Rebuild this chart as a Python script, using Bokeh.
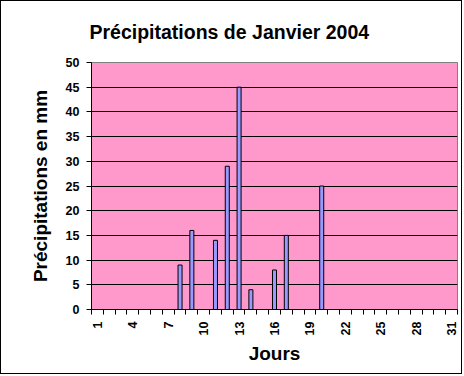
import math
from bokeh.plotting import figure
from bokeh.models import Range1d, FixedTicker, ColumnDataSource
from bokeh.embed import file_html
from bokeh.resources import INLINE

# ---- data ----
days = [8, 9, 11, 12, 13, 14, 16, 17, 20]
rain_mm = [9, 16, 14, 29, 45, 4, 8, 15, 25]
x_tick_days = [1, 4, 7, 10, 13, 16, 19, 22, 25, 28, 31]
y_ticks = [0, 5, 10, 15, 20, 25, 30, 35, 40, 45, 50]
n_days = 31

title_text = "Précipitations de Janvier 2004"
x_label = "Jours"
y_label = "Précipitations en mm"

FONT = "Liberation Sans"

p = figure(width=462, height=374, output_backend="svg", toolbar_location=None,
           x_range=Range1d(0.5, n_days + 0.5), y_range=Range1d(0, 50),
           min_border_left=90, min_border_right=6, min_border_top=61, min_border_bottom=66,
           title=title_text)

p.styles = {"border": "1px solid black"}

p.background_fill_color = "#FF99CC"
p.border_fill_color = "white"
p.outline_line_color = "#808080"
p.outline_line_width = 1

# title
p.title.text_font = FONT
p.title.text_font_size = "19.5px"
p.title.text_font_style = "bold"
p.title.text_color = "black"
p.title.align = "left"
p.title.vertical_align = "top"
p.title.offset = -2
p.title.standoff = 36

src = ColumnDataSource(dict(day=days, mm=rain_mm))
p.vbar(x="day", top="mm", width=0.34, bottom=0, source=src,
       fill_color="#9999FF", line_color="black", line_width=1)

# x axis
xa = p.xaxis[0]
xa.ticker = FixedTicker(ticks=x_tick_days,
                        minor_ticks=[d + 0.5 for d in range(0, n_days + 1)])
xa.major_tick_line_color = None
xa.minor_tick_line_color = "black"
xa.minor_tick_out = 5
xa.minor_tick_in = 0
xa.axis_line_color = "black"
xa.major_label_orientation = math.pi / 2
xa.major_label_text_font = FONT
xa.major_label_text_font_size = "12.5px"
xa.major_label_text_font_style = "bold"
xa.major_label_text_color = "black"
xa.major_label_standoff = 6
xa.axis_label = x_label
xa.axis_label_text_font = FONT
xa.axis_label_text_font_size = "19px"
xa.axis_label_text_font_style = "bold"
xa.axis_label_text_color = "black"
xa.axis_label_standoff = 5

# y axis
ya = p.yaxis[0]
ya.ticker = FixedTicker(ticks=y_ticks)
ya.major_tick_line_color = "black"
ya.major_tick_out = 5
ya.major_tick_in = 0
ya.minor_tick_line_color = None
ya.axis_line_color = "black"
ya.major_label_text_font = FONT
ya.major_label_text_font_size = "12.5px"
ya.major_label_text_font_style = "bold"
ya.major_label_text_color = "black"
ya.major_label_standoff = 7
ya.axis_label = y_label
ya.axis_label_text_font = FONT
ya.axis_label_text_font_size = "19px"
ya.axis_label_text_font_style = "bold"
ya.axis_label_text_color = "black"
ya.axis_label_standoff = 12

# grid
p.xgrid.grid_line_color = None
p.ygrid.ticker = FixedTicker(ticks=y_ticks[1:-1])
p.ygrid.grid_line_color = "black"
p.ygrid.grid_line_width = 1

open("out.html", "w").write(file_html(p, INLINE))
